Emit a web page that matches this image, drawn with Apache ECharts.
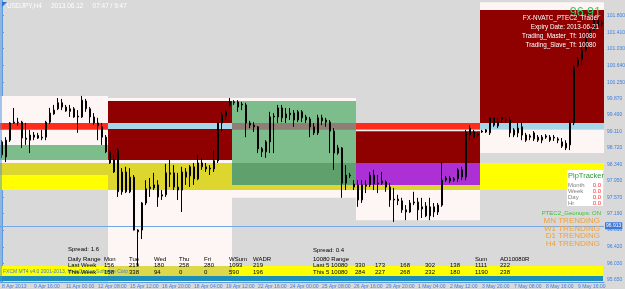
<!DOCTYPE html>
<html><head><meta charset="utf-8">
<script src="https://cdn.jsdelivr.net/npm/echarts@6/dist/echarts.min.js"></script>
<style>html,body{margin:0;padding:0;background:#d9d9d9}#c{width:625px;height:289px}</style>
</head><body><div id="c"></div>
<script>
// ---- data ----
const timeLabels = ["8 Apr 2013","9 Apr 16:00","11 Apr 00:00","12 Apr 08:00","15 Apr 12:00","16 Apr 20:00","18 Apr 04:00","19 Apr 12:00","22 Apr 16:00","24 Apr 00:00","25 Apr 08:00","26 Apr 16:00","29 Apr 20:00","1 May 04:00","2 May 12:00","3 May 20:00","7 May 08:00","8 May 16:00","9 May 16:00"];
const yTicks = [101.800,101.410,101.030,100.640,100.250,99.870,99.490,99.110,98.720,98.340,97.950,97.570,97.190,96.810,96.420,96.030,95.650];
// [open, close, low, high]
const ohlc = [
[98.86,98.56,98.49,98.90],[98.51,98.90,98.39,98.97],[98.90,99.30,98.86,99.32],[99.30,99.32,99.28,99.65],[99.32,99.31,99.23,99.42],
[99.32,98.95,98.72,99.35],[98.95,98.92,98.79,99.30],[98.90,99.02,98.60,99.14],[99.02,98.97,98.90,99.09],[99.01,98.95,98.93,99.07],
[98.95,98.97,98.90,99.14],[98.97,99.32,98.90,99.35],[99.32,99.53,99.28,99.65],[99.51,99.60,99.49,99.72],[99.63,99.77,99.60,99.88],
[99.77,99.67,99.60,99.86],[99.67,99.58,99.56,99.72],[99.63,99.57,99.44,99.72],[99.63,99.44,99.42,99.67],[99.44,99.46,99.07,99.60],
[99.44,99.83,99.42,99.93],[99.81,99.63,99.56,99.86],[99.63,99.44,99.30,99.67],[99.44,99.30,99.25,99.53],[99.30,99.23,98.90,99.42],
[99.21,98.97,98.79,99.30],[98.97,98.63,98.60,99.02],[98.63,98.37,98.35,98.67],[98.16,98.44,98.14,98.56],[98.67,97.70,97.58,98.72],
[98.16,97.70,97.63,98.25],[98.16,97.70,97.67,98.28],[97.70,98.04,97.67,98.25],[98.04,96.81,96.80,98.09],[96.81,96.77,95.84,96.83],
[96.81,97.44,96.60,97.46],[97.44,97.77,97.39,97.97],[97.77,97.81,97.58,98.02],[97.79,97.86,97.74,98.14],[97.86,97.58,97.35,97.97],
[97.60,97.63,97.51,97.74],[97.63,98.14,97.58,98.35],[98.14,98.11,97.81,98.44],[98.14,97.81,97.74,98.32],[97.81,97.74,97.51,98.14],
[97.74,98.16,97.23,98.28],[98.16,98.04,97.86,98.25],[98.07,98.28,97.81,98.32],[98.28,98.00,97.86,98.37],[98.00,98.37,97.97,98.56],
[98.37,98.28,98.21,98.49],[98.28,98.23,98.16,98.37],[98.23,98.25,98.09,98.32],[98.23,98.42,98.16,98.67],[98.42,99.30,98.37,99.32],
[99.30,99.49,99.09,99.56],[99.46,99.56,99.37,99.60],[99.72,99.79,99.67,99.88],[99.79,99.77,99.72,99.83],[99.79,99.67,99.56,99.83],
[99.72,99.74,99.60,99.79],[99.72,99.30,98.97,99.77],[99.30,99.25,99.18,99.35],[99.25,99.21,99.09,99.32],[99.21,98.70,98.60,99.23],
[98.70,98.63,98.51,98.74],[98.63,98.86,98.49,98.90],[98.86,99.44,98.60,99.56],[99.44,99.46,98.60,99.53],[99.44,99.65,99.30,99.72],
[99.65,99.42,99.32,99.72],[99.42,99.51,99.30,99.65],[99.49,99.53,99.37,99.65],[99.53,99.37,99.21,99.60],[99.37,99.56,99.32,99.60],
[99.56,99.42,99.32,99.60],[99.44,99.37,99.30,99.49],[99.39,99.21,98.97,99.44],[99.21,99.07,99.02,99.30],[99.07,99.42,99.02,99.49],
[99.42,99.35,99.25,99.49],[99.37,99.32,99.21,99.42],[99.32,99.11,98.60,99.37],[99.11,98.60,98.21,99.18],[98.60,98.72,98.56,98.79],
[98.72,97.90,97.56,98.74],[97.90,98.09,97.74,98.32],[98.09,98.07,98.02,98.14],[97.88,97.81,97.74,97.97],[97.86,97.51,97.35,97.97],
[97.51,97.86,97.44,97.97],[97.86,97.83,97.67,97.97],[97.86,98.09,97.81,98.16],[98.09,97.88,97.74,98.21],[97.88,97.90,97.67,98.09],
[97.95,97.90,97.86,98.16],[97.93,97.81,97.70,97.97],[97.81,97.51,97.35,97.90],[97.53,97.51,97.00,97.79],[97.53,97.49,97.39,97.63],
[97.49,97.28,97.21,97.56],[97.28,97.23,97.04,97.39],[97.23,97.44,97.21,97.51],[97.44,97.46,97.39,97.70],[97.46,97.28,97.04,97.56],
[97.30,97.35,97.09,97.56],[97.37,97.14,97.11,97.46],[97.14,97.35,97.04,97.56],[97.35,97.23,97.11,97.44],[97.23,97.39,97.16,97.44],
[97.39,97.97,97.35,98.39],[97.97,98.02,97.93,98.07],[98.02,97.95,97.90,98.07],[97.97,98.00,97.93,98.04],[98.00,98.21,97.93,98.25],
[98.21,98.04,97.97,98.28],[98.04,99.09,97.97,99.14],[99.18,99.02,98.90,99.25],[99.09,98.97,98.95,99.14],[99.02,99.04,98.97,99.07],
[99.09,99.11,99.07,99.14],[99.09,99.14,99.07,99.16],[99.07,99.42,99.02,99.44],[99.42,99.25,99.21,99.44],[99.23,99.32,99.18,99.42],
[99.42,99.39,99.30,99.44],[99.37,99.39,99.30,99.42],[99.37,99.07,98.97,99.44],[99.14,99.02,98.97,99.18],[99.07,99.18,98.97,99.30],
[99.21,99.02,98.90,99.32],[99.02,98.90,98.86,99.07],[98.97,99.00,98.90,99.04],[98.93,99.07,98.88,99.11],[98.97,98.90,98.86,99.02],
[98.97,98.90,98.83,99.02],[98.97,99.00,98.93,99.04],[98.97,98.90,98.86,99.02],[98.95,98.97,98.88,99.02],[98.93,98.90,98.83,98.97],
[98.86,98.76,98.72,98.95],[98.72,98.83,98.67,98.90],[98.79,99.30,98.67,99.37],[99.30,100.60,99.25,100.65],[100.77,100.63,100.60,100.83],
[100.77,101.00,100.65,101.07],[101.00,101.30,100.95,101.42],[101.30,101.46,101.28,101.53],[101.46,101.70,101.44,101.77],[101.70,101.56,101.51,101.74],
[101.63,101.60,101.53,101.70]
];
// price zones: [fromBar, toBar, high, low, kind]
const zones = [
[-1,26.5,99.93,98.37,'snow'],[-1,26.5,99.30,99.14,'red'],[-1,26.5,98.79,98.44,'green'],[-1,26.5,98.37,98.09,'olive'],[-1,26.5,98.09,97.74,'yellow'],
[26.5,57.5,99.88,95.60,'snow'],[26.5,57.5,99.81,98.44,'maroon'],[26.5,57.5,99.30,99.16,'sky'],[26.5,57.5,98.37,97.74,'olive'],
[57.5,88.5,99.88,97.56,'snow'],[57.5,88.5,99.81,98.37,'green'],[57.5,88.5,99.30,99.14,'brown'],[57.5,88.5,98.37,97.86,'darkgreen'],[57.5,88.5,97.86,97.74,'olive'],
[88.5,119.5,99.30,99.14,'red'],[88.5,119.5,99.14,97.04,'snow'],[88.5,119.5,99.11,98.37,'maroon'],[88.5,119.5,98.37,97.86,'purple'],[88.5,119.5,97.86,97.74,'olive'],
[119.5,150.5,102.11,101.93,'snow'],[119.5,150.5,101.93,99.30,'maroon'],[119.5,150.5,99.30,99.14,'sky'],[119.5,150.5,99.14,98.60,'snow'],[119.5,150.5,98.37,97.74,'yellow']
];
const currentPrice = 96.913;
const rangeHeader = ["Daily Range","Mon","Tue","Wed","Thu","Fri","WSum","WADR"];
const rangeLast = ["Last Week","156","219","180","258","280","1093","219"];
const rangeThis = ["This Week","158","338","94","0","0","590","196"];
const r5Header = ["10080 Range","","","","","","Sum","AD10080R"];
const r5Last = ["Last 5 10080","330","173","168","302","138","1111","222"];
const r5This = ["This 5 10080","284","227","268","232","180","1190","238"];
const trendLines = ["MN TRENDING","W1 TRENDING","D1 TRENDING","H4 TRENDING"];
const pipRows = [["Month","0.0"],["Week","0.0"],["Day","0.0"],["Hr","0.0"]];

// ---- styles ----
const zoneColors = {snow:'#fdf6f4',red:'#ff2c1c',green:'#7dbd8b',olive:'#dcd62e',yellow:'#ffff00',maroon:'#8f0000',sky:'#a6d6ea',brown:'#8e7e76',darkgreen:'#5fa16c',purple:'#ad30d6'};
const FONT = 'Liberation Sans, Arial, sans-serif';

const chart = echarts.init(document.getElementById('c'), null, {renderer:'canvas'});
const cats = ohlc.map((d,i)=>String(i));

function txt(x,y,t,fill,size,align){
  return {type:'text',x:x,y:y,z:100,style:{text:t,fill:fill,font:size+'px '+FONT,align:align||'left',verticalAlign:'middle'}};
}
function tableTexts(rows, xs, y0, dy){
  const out=[];
  rows.forEach((r,ri)=>r.forEach((t,ci)=>{ if(t!=='') out.push(txt(xs[ci],y0+ri*dy,t,'#000',6)); }));
  return out;
}
const graphics = [
  {type:'rect',shape:{x:0,y:266,width:108,height:10},style:{fill:'#ffff00'},z:50},
  {type:'rect',shape:{x:108,y:266,width:124,height:10},style:{fill:'#dcd84a'},z:50},
  {type:'rect',shape:{x:232,y:266,width:371,height:10},style:{fill:'#ffff00'},z:50},
  {type:'rect',shape:{x:0,y:276,width:603,height:5},style:{fill:'#1e8fba'},z:50},
  {type:'line',shape:{x1:1,y1:0,x2:1,y2:282},style:{stroke:'#4a90e0',lineWidth:1},z:60},
  {type:'polygon',shape:{points:[[2,2],[7,2],[2,7]]},style:{fill:'#2a6fd8'},z:60},
  txt(7,6,'USDJPY,H4     2013.06.12     07:47 / 9:47','#ffffff',6.5),
  txt(601,13,'96.91','#33cc6c',12.5,'right'),
  txt(599,18,'FX-NVATC_PTEC2_Trader','#ffffff',6.3,'right'),
  txt(599,27,'Expiry Date: 2013-06-21','#ffffff',6.3,'right'),
  txt(596,36,'Trading_Master_Tf: 10080','#ffffff',6.3,'right'),
  txt(596,45,'Trading_Slave_Tf: 10080','#ffffff',6.3,'right'),
  {type:'rect',shape:{x:567,y:170,width:36,height:36},style:{fill:'#ffffff'},z:90},
  txt(568,176,'PipTracker','#2a9a3c',7.5),
  txt(601,213,'PTEC2_Geonups: ON','#3cc03c',6,'right'),
  txt(68,249,'Spread: 1.6','#000',6),
  txt(313,250,'Spread: 0.4','#000',6),
  txt(3,272,'FXCM MT4 v4.0 2001-2013, MetaQuotes Software Corp.','#3a7fd8',5)
];
pipRows.forEach((r,i)=>{
  graphics.push(txt(568,185+i*6,r[0],'#808080',6));
  graphics.push(txt(601,185+i*6,r[1],'#ff3030',6,'right'));
});
trendLines.forEach((t,i)=>graphics.push(txt(600,221+i*7.5,t,'#f0a03c',8,'right')));
const colsL=[68,104,129,154,179,204,229,253];
const colsR=[313,355,375,400,425,450,475,500];
graphics.push(...tableTexts([rangeHeader,rangeLast,rangeThis],colsL,259,6.5));
graphics.push(...tableTexts([r5Header,r5Last,r5This],colsR,259,6.5));

chart.setOption({
  animation:false,
  backgroundColor:'#d9d9d9',
  grid:{left:0,right:21,top:0,bottom:7,containLabel:false,outerBoundsMode:'none'},
  xAxis:[
    {type:'category',data:cats,boundaryGap:true,
     axisLine:{lineStyle:{color:'#5c9ae6'}},
     axisTick:{interval:7,length:2,lineStyle:{color:'#5c9ae6'}},
     axisLabel:{interval:7,showMinLabel:true,hideOverlap:false,align:'left',margin:2,fontSize:5,fontFamily:FONT,color:'#3d7fe0',
       formatter:(v,i)=>timeLabels[Math.round(i/8)]||''},
     splitLine:{show:false}},
    {type:'value',min:-0.5,max:ohlc.length-0.5,show:false}
  ],
  yAxis:{type:'value',position:'right',min:95.602,max:102.16,
    axisLine:{show:true,lineStyle:{color:'#5c9ae6'}},
    axisTick:{show:true,length:2,customValues:yTicks,lineStyle:{color:'#5c9ae6'}},
    axisLabel:{customValues:yTicks,formatter:v=>v.toFixed(3),fontSize:5,fontFamily:FONT,color:'#3d7fe0',margin:3},
    splitLine:{show:false}},
  series:[
    {type:'custom',xAxisIndex:1,z:1,silent:true,clip:true,
     data:zones.map(z=>[z[0],z[1],z[2],z[3]]),
     encode:{x:[0,1],y:[2,3]},
     renderItem:(params,api)=>{
       const a=api.coord([api.value(0),api.value(2)]);
       const b=api.coord([api.value(1),api.value(3)]);
       return {type:'rect',shape:{x:a[0],y:a[1],width:b[0]-a[0],height:b[1]-a[1]},
         style:{fill:zoneColors[zones[params.dataIndex][4]]}};
     }},
    {type:'candlestick',xAxisIndex:0,z:5,data:ohlc,barWidth:2,
     itemStyle:{color:'#3ee0b2',color0:'#ff3b12',borderColor:'#000',borderColor0:'#000',borderWidth:1},
     markLine:{silent:true,symbol:['none','none'],
       lineStyle:{color:'#72a8e6',width:1,type:'solid'},
       label:{show:true,position:'end',formatter:()=>currentPrice.toFixed(3),color:'#fff',backgroundColor:'#3c78d8',fontSize:5,fontFamily:FONT,padding:[1,1],distance:1},
       data:[{yAxis:currentPrice}]}}
  ],
  graphic:graphics
});
</script></body></html>
